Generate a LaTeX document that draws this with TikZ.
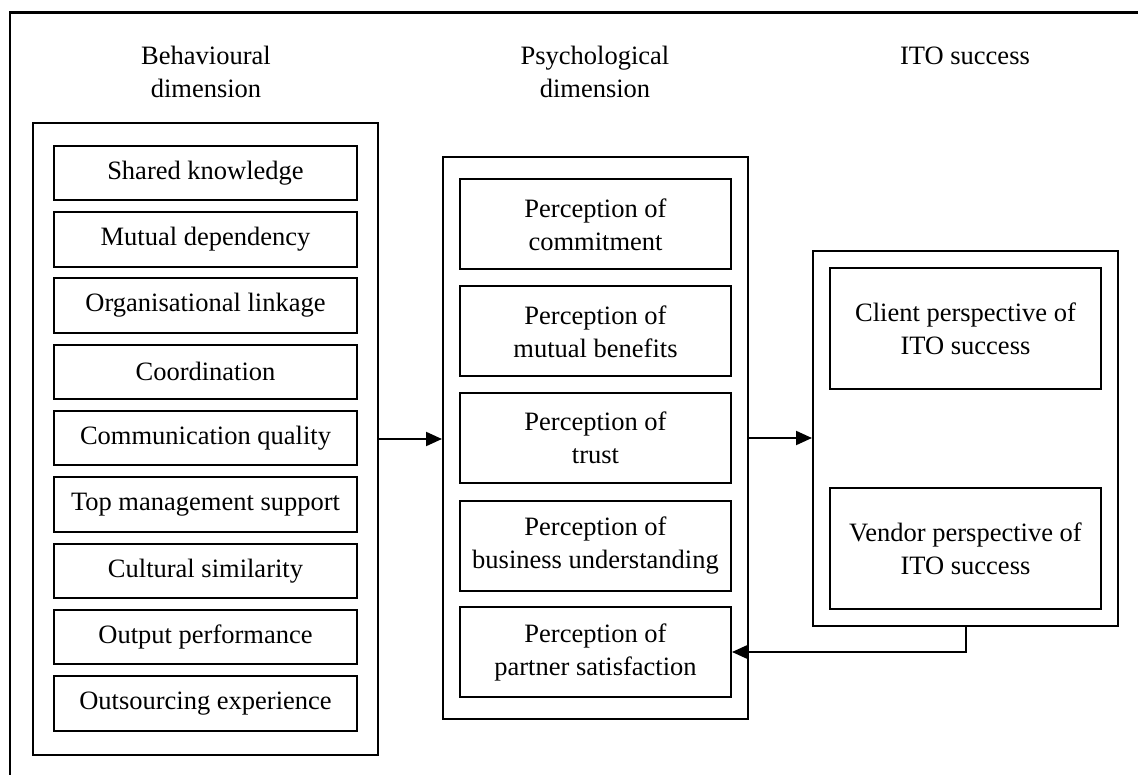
\documentclass[tikz,border=0pt]{standalone}
\usepackage{fontspec}
\setmainfont{Liberation Serif}
\usetikzlibrary{arrows.meta}
\begin{document}
\begin{tikzpicture}[x=1pt,y=-1pt,
  every node/.style={font=\fontsize{26.5}{33}\selectfont, align=center, inner sep=0pt},
  itembox/.style={draw, line width=2pt, minimum width=303pt, minimum height=54.5pt},
  percbox/.style={draw, line width=2pt, minimum width=271pt, minimum height=90pt},
  itobox/.style={draw, line width=2pt, minimum width=271pt, minimum height=121pt},
  groupbox/.style={draw, line width=2pt},
  conn/.style={line width=2pt, -{Triangle[length=16pt,width=14pt]}}]
\useasboundingbox (0,0) rectangle (1138,775);
\clip (0,0) rectangle (1138,775);
% outer frame (open to the right and bottom)
\draw[line width=2.5pt] (10,790) -- (10,12.5) -- (1150,12.5);

% column headings
\node (hbeh) at (206,72) {Behavioural\\dimension};
\node (hpsy) at (595,72) {Psychological\\dimension};
\node (hito) at (965,56) {ITO success};

% behavioural dimension
\node[groupbox, minimum width=345pt, minimum height=632pt] (beh) at (205.5,439) {};
\foreach \t [count=\i from 0] in {Shared knowledge, Mutual dependency, Organisational linkage, Coordination, Communication quality, Top management support, Cultural similarity, Output performance, Outsourcing experience}
  \node[itembox] (b\i) at (205.5,{173+66.3*\i}) {\t};

% psychological dimension
\node[groupbox, minimum width=305pt, minimum height=562pt] (psy) at (595.5,438) {};
\node[percbox] (p0) at (595.5,224.5) {Perception of\\commitment};
\node[percbox] (p1) at (595.5,331.5) {Perception of\\mutual benefits};
\node[percbox] (p2) at (595.5,438) {Perception of\\trust};
\node[percbox] (p3) at (595.5,545.5) {Perception of\\business understanding};
\node[percbox] (p4) at (595.5,652) {Perception of\\partner satisfaction};

% ITO success
\node[groupbox, minimum width=305pt, minimum height=375pt] (ito) at (965.5,438.5) {};
\node[itobox] (client) at (965.5,328.5) {Client perspective of\\ITO success};
\node[itobox] (vendor) at (965.5,548.5) {Vendor perspective of\\ITO success};

% connectors
\draw[conn] (beh.east) -- (beh.east -| psy.west);
\draw[conn] (psy.east) -- (psy.east -| ito.west);
\draw[conn] (ito.south) -- (ito.south |- p4.east) -- (p4.east);
\end{tikzpicture}
\end{document}
